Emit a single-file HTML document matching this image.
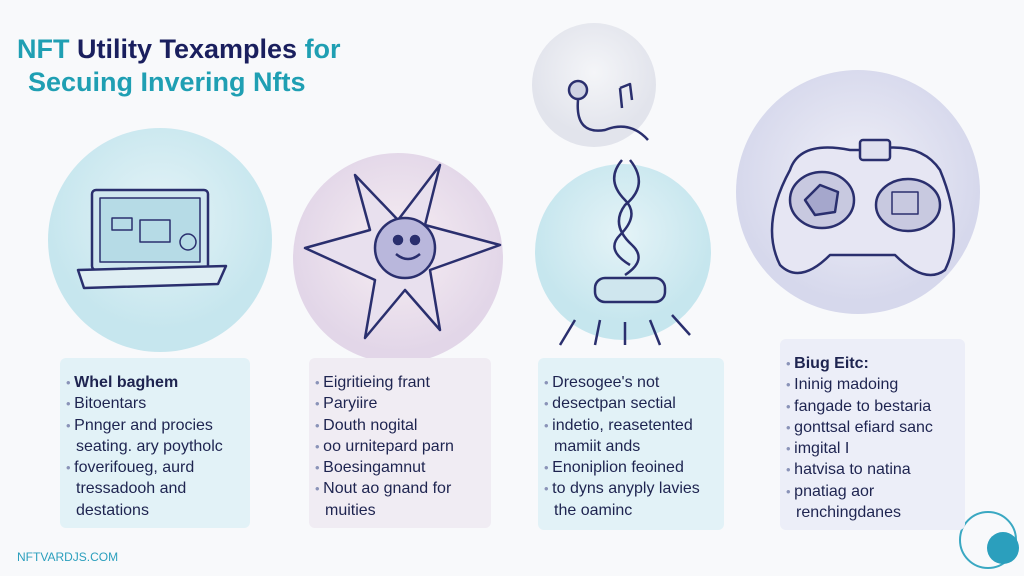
<!DOCTYPE html>
<html><head><style>
body{margin:0;width:1024px;height:576px;background:#f8f9fb;position:relative;overflow:hidden;font-family:"Liberation Sans",sans-serif;}
.t{position:absolute;font-weight:bold;font-size:27px;}
.box{position:absolute;border-radius:6px;padding-top:14px;box-sizing:border-box;}
.box div{font-size:16px;line-height:21.3px;color:#1e2450;padding-left:16px;text-indent:-10px;}
.box div.b::before{content:"• ";color:#8a93b8;font-size:13px;}
.box div.c{padding-left:16px;text-indent:0;}
</style></head><body>
<div class="t" style="left:17px;top:34px;color:#1a1f5e"><span style="color:#1f9fb3">NFT</span> Utility Texamples <span style="color:#1f9fb3">for</span></div>
<div class="t" style="left:28px;top:67px;color:#1f9fb3">Secuing Invering Nfts</div>
<svg width="1024" height="576" style="position:absolute;left:0;top:0">
<defs>
<radialGradient id="g1" cx="50%" cy="40%"><stop offset="0" stop-color="#e4f3f7"/><stop offset="1" stop-color="#c6e6ee"/></radialGradient>
<radialGradient id="g2" cx="50%" cy="45%"><stop offset="0" stop-color="#f7eef3"/><stop offset="1" stop-color="#e2d6e8"/></radialGradient>
<radialGradient id="g3" cx="50%" cy="40%"><stop offset="0" stop-color="#f4f5f8"/><stop offset="1" stop-color="#e2e4ec"/></radialGradient>
<radialGradient id="g4" cx="50%" cy="45%"><stop offset="0" stop-color="#f0f0f8"/><stop offset="1" stop-color="#d6d8ec"/></radialGradient>
</defs>
<circle cx="160" cy="240" r="112" fill="url(#g1)"/>
<circle cx="398" cy="258" r="105" fill="url(#g2)"/>
<circle cx="594" cy="85" r="62" fill="url(#g3)"/>
<circle cx="623" cy="252" r="88" fill="url(#g1)"/>
<circle cx="858" cy="192" r="122" fill="url(#g4)"/>
<g fill="none" stroke="#2a2f6e" stroke-width="2.5" stroke-linejoin="round">
<!-- laptop -->
<rect x="92" y="190" width="116" height="80" rx="4" fill="#cfe6ef"/>
<rect x="100" y="198" width="100" height="64" fill="#b6dbe6" stroke-width="1.5"/>
<rect x="112" y="218" width="20" height="12" stroke-width="1.5"/><rect x="140" y="220" width="30" height="22" stroke-width="1.5"/>
<circle cx="188" cy="242" r="8" stroke-width="1.5"/>
<path d="M78 270 L226 266 L218 284 L84 288 Z" fill="#dfeef3"/>
<!-- star -->
<path d="M398 220 L440 165 L425 225 L500 245 L430 270 L440 330 L405 290 L365 338 L375 280 L305 248 L370 230 L355 175 Z" fill="#e8e0ee"/>
<circle cx="405" cy="248" r="30" fill="#b9b7dc"/>
<circle cx="398" cy="240" r="4" fill="#2a2f6e"/><circle cx="415" cy="240" r="4" fill="#2a2f6e"/>
<path d="M396 254 Q408 264 420 254"/>
<!-- music -->
<circle cx="578" cy="90" r="9" fill="#cfd3e4"/>
<path d="M578 100 Q575 135 605 130 Q630 120 648 140"/>
<path d="M620 88 L622 108 M620 88 L630 84 L632 100"/>
<path d="M622 160 Q605 180 625 200 Q640 215 620 235 Q605 250 630 265 M630 160 Q650 185 625 205 Q610 225 632 245 Q648 260 625 275"/>
<rect x="595" y="278" width="70" height="24" rx="10" fill="#cfe6ee"/>
<path d="M575 320 L560 345 M600 320 L595 345 M625 322 L625 345 M650 320 L660 345 M672 315 L690 335"/>
<!-- controller -->
<path d="M790 170 Q800 140 850 150 L870 150 Q920 140 940 170 Q965 230 945 270 Q925 285 895 255 L830 255 Q800 285 780 265 Q760 225 790 170 Z" fill="#e6e6f3"/>
<rect x="860" y="140" width="30" height="20" rx="3" fill="#dfe0ef"/>
<ellipse cx="822" cy="200" rx="32" ry="28" fill="#c8c9e0"/>
<path d="M805 200 L820 185 L838 192 L835 212 L815 215 Z" fill="#a5a7cc"/>
<ellipse cx="908" cy="205" rx="32" ry="26" fill="#c8c9e0"/>
<rect x="892" y="192" width="26" height="22" stroke-width="1.5"/>
</g>
<g fill="none" stroke="#3aa8c2" stroke-width="2"><circle cx="988" cy="540" r="28"/></g>
<circle cx="1003" cy="548" r="16" fill="#2b9fbd"/>
</svg>
<div class="box" style="left:60px;top:358px;width:190px;height:170px;background:#e2f2f7">
<div class="b"><b>Whel baghem</b></div><div class="b">Bitoentars</div><div class="b">Pnnger and procies</div><div class="c">seating. ary poytholc</div><div class="b">foverifoueg, aurd</div><div class="c">tressadooh and</div><div class="c">destations</div></div>
<div class="box" style="left:309px;top:358px;width:182px;height:170px;background:#f0ecf3">
<div class="b">Eigritieing frant</div><div class="b">Paryiire</div><div class="b">Douth nogital</div><div class="b">oo urnitepard parn</div><div class="b">Boesingamnut</div><div class="b">Nout ao gnand for</div><div class="c">muities</div></div>
<div class="box" style="left:538px;top:358px;width:186px;height:172px;background:#e2f2f7">
<div class="b">Dresogee's not</div><div class="b">desectpan sectial</div><div class="b">indetio, reasetented</div><div class="c">mamiit ands</div><div class="b">Enoniplion feoined</div><div class="b">to dyns anyply lavies</div><div class="c">the oaminc</div></div>
<div class="box" style="left:780px;top:339px;width:185px;height:191px;background:#eceef8">
<div class="b"><b>Biug Eitc:</b></div><div class="b">Ininig madoing</div><div class="b">fangade to bestaria</div><div class="b">gonttsal efiard sanc</div><div class="b">imgital I</div><div class="b">hatvisa to natina</div><div class="b">pnatiag aor</div><div class="c">renchingdanes</div></div>
<div style="position:absolute;left:17px;top:550px;font-size:12px;color:#2b9fbd">NFTVARDJS.COM</div>
</body></html>
